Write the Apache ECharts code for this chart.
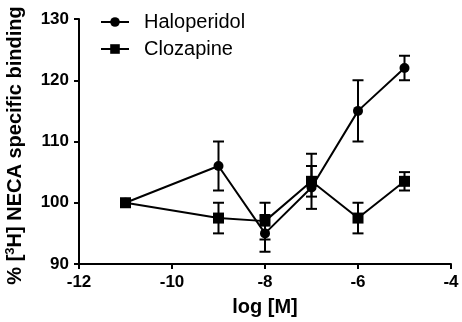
<!DOCTYPE html>
<html>
<head>
<meta charset="utf-8">
<script src="https://cdn.jsdelivr.net/npm/echarts@6/dist/echarts.min.js"></script>
<style>
  html, body { margin: 0; padding: 0; background: #fff; }
  #chart { width: 462px; height: 322px; }
</style>
</head>
<body>
<div id="chart"></div>
<script>
// log concentration
const logConc = [-11, -9, -8, -7, -6, -5];

// haloperidol mean and error limits
const haloMean = [100, 106, 95, 102.5, 115, 122];
const haloLow = [100, 102, 92, 99, 110, 120];
const haloHigh = [100, 110, 98, 108, 120, 124];

// clozapine mean and error limits
const cloMean = [100, 97.5, 97, 103.5, 97.5, 103.5];
const cloLow = [100, 95, 94, 101, 95, 102];
const cloHigh = [100, 100, 100, 106, 100, 105];

const xTicks = [-12, -10, -8, -6, -4];
const yTicks = [90, 100, 110, 120, 130];

const font = "'Liberation Sans', Arial, sans-serif";

const chart = echarts.init(document.getElementById("chart"));

function errData(low, high) {
  return logConc.map((x, i) => [x, low[i], high[i]]);
}

function renderErr(params, api) {
  const lo = api.value(1);
  const hi = api.value(2);
  if (lo === hi) return null;
  const p1 = api.coord([api.value(0), lo]);
  const p2 = api.coord([api.value(0), hi]);
  const w = 5.5;
  const style = { stroke: "#000", lineWidth: 2 };
  return {
    type: "group",
    children: [
      { type: "line", shape: { x1: p1[0], y1: p1[1], x2: p2[0], y2: p2[1] }, style },
      { type: "line", shape: { x1: p1[0] - w, y1: p1[1], x2: p1[0] + w, y2: p1[1] }, style },
      { type: "line", shape: { x1: p2[0] - w, y1: p2[1], x2: p2[0] + w, y2: p2[1] }, style },
    ],
  };
}

const axisCommon = {
  axisLine: { lineStyle: { color: "#000", width: 2 } },
  axisTick: { show: true, length: 5, lineStyle: { color: "#000", width: 2 } },
  splitLine: { show: false },
  axisLabel: { color: "#000", fontFamily: font, fontWeight: "bold", fontSize: 17 },
  nameTextStyle: { color: "#000", fontFamily: font, fontWeight: "bold", fontSize: 20 },
};

const option = {
  animation: false,
  backgroundColor: "#fff",
  grid: { left: 79, right: 11, top: 19, bottom: 58, outerBoundsMode: "none" },
  legend: {
    left: 95,
    top: 7,
    orient: "vertical",
    itemWidth: 28,
    itemHeight: 12,
    itemGap: 7,
    textStyle: { color: "#000", fontFamily: font, fontSize: 20, padding: [0, 0, 0, 10] },
    data: ["Haloperidol", "Clozapine"],
  },
  xAxis: {
    type: "value",
    min: xTicks[0],
    max: xTicks[xTicks.length - 1],
    interval: 2,
    name: "log [M]",
    nameLocation: "middle",
    nameGap: 33,
    ...axisCommon,
    axisLabel: { ...axisCommon.axisLabel, margin: 10 },
  },
  yAxis: {
    type: "value",
    min: yTicks[0],
    max: yTicks[yTicks.length - 1],
    interval: 10,
    name: "% [{sup|3}H] NECA specific binding",
    nameLocation: "middle",
    nameGap: 52,
    ...axisCommon,
    axisLabel: { ...axisCommon.axisLabel, margin: 10 },
    nameTextStyle: {
      ...axisCommon.nameTextStyle,
      padding: [0, 8, 0, 0],
      rich: {
        sup: { fontFamily: font, fontWeight: "bold", fontSize: 13, color: "#000", padding: [0, 0, 10, 0] },
      },
    },
  },
  series: [
    {
      name: "Haloperidol",
      type: "line",
      data: logConc.map((x, i) => [x, haloMean[i]]),
      symbol: "circle",
      symbolSize: 10,
      lineStyle: { color: "#000", width: 2 },
      itemStyle: { color: "#000" },
      z: 3,
    },
    {
      type: "custom",
      renderItem: renderErr,
      data: errData(haloLow, haloHigh),
      z: 2,
    },
    {
      name: "Clozapine",
      type: "line",
      data: logConc.map((x, i) => [x, cloMean[i]]),
      symbol: "rect",
      symbolSize: 11,
      lineStyle: { color: "#000", width: 2 },
      itemStyle: { color: "#000" },
      z: 4,
    },
    {
      type: "custom",
      renderItem: renderErr,
      data: errData(cloLow, cloHigh),
      z: 2,
    },
  ],
};

chart.setOption(option);
</script>
</body>
</html>
